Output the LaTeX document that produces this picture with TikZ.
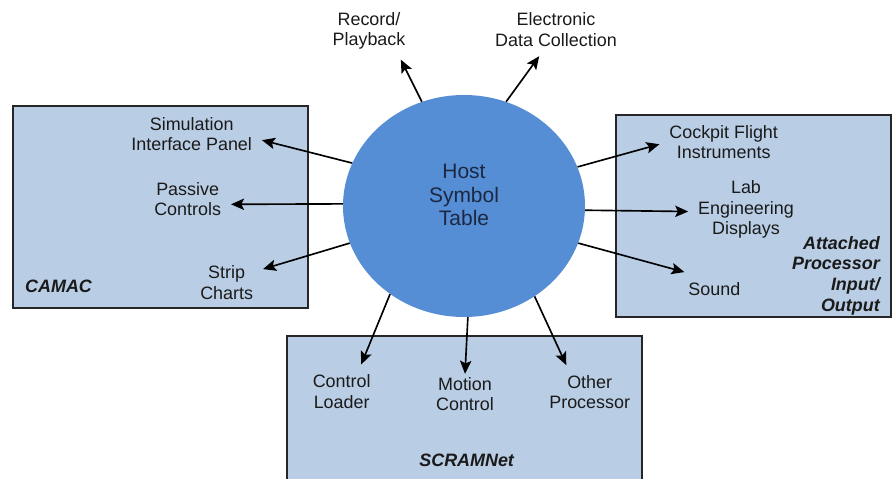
\documentclass[tikz,border=0pt]{standalone}
\usepackage{fontspec}
\setmainfont{Liberation Sans}
\usetikzlibrary{arrows.meta}
\usetikzlibrary{shapes.geometric}
\usetikzlibrary{calc,positioning}

\definecolor{boxblue}{RGB}{185,205,229}
\definecolor{hostblue}{RGB}{85,142,213}
\definecolor{hostink}{RGB}{28,40,66}
\definecolor{ink}{RGB}{26,26,26}

\begin{document}
\begin{tikzpicture}[>={Stealth[length=3.9mm,width=3.4mm,inset=0.8mm]},
    group/.style={fill=boxblue, draw=black!85, line width=0.9pt},
    item/.style={align=center, inner sep=0pt, outer sep=0.3cm, text=ink, font=\fontsize{15.3}{17.6}\selectfont},
    title/.style={inner sep=0pt, text=ink, font=\fontsize{15.3}{17.6}\selectfont\bfseries\itshape},
    link/.style={->, line width=1.4pt}]

    \useasboundingbox (0,0) rectangle (26.79,14.37);

    % the three groups
    \draw[group] (0.39,5.13) rectangle (9.24,11.19);
    \draw[group] (18.48,4.86) rectangle (26.73,10.92);
    \fill[boxblue] (8.61,0) rectangle (19.26,4.29);
    \draw[black!85, line width=0.9pt] (8.61,0) |- (19.26,4.29) -- (19.26,0);

    \node[ellipse, fill=hostblue, minimum width=7.26cm, minimum height=6.66cm, inner sep=0pt] (host) at (13.92,8.19) {};
    \node[text=hostink, align=center, font=\fontsize{17.9}{20}\selectfont] (hosttext) at ([yshift=0.33cm]host.center) {Host\\Symbol\\Table};

    \node[item] (rec) at (11.07,13.44) {Record/\\Playback};
    \node[item] (elec) at (16.68,13.49) {Electronic\\Data Collection};

    \node[item] (sim) at (5.75,10.35) {Simulation\\Interface Panel};
    \node[item] (passive) at (5.63,8.40) {Passive\\Controls};
    \node[item] (strip) at (6.80,5.90) {Strip\\Charts};
    \node[title, anchor=west] (camac) at (0.75,5.77) {CAMAC};

    \node[item] (cockpit) at (21.71,10.11) {Cockpit Flight\\Instruments};
    \node[item] (lab) at (22.38,8.085) {Lab\\Engineering\\Displays};
    \node[item] (sound) at (21.43,5.71) {Sound};
    \node[title, align=right, anchor=east] (attached) at (26.40,6.10) {Attached\\Processor\\Input/\\Output};

    \node[item] (loader) at (10.25,2.63) {Control\\Loader};
    \node[item, outer sep=0.1cm] (motion) at (13.95,2.55) {Motion\\Control};
    \node[item] (other) at (17.69,2.61) {Other\\Processor};
    \node[title] (scram) at (14.00,0.57) {SCRAMNet};

    % links
    \draw[link] (host.112.8) -- (rec.-42);
    \draw[link] (host.68.9) -- (elec.-122.7);
    \draw[link] (host.159.5) -- (sim.-5.2);
    \draw[link] (host.179) -- (passive.-7.2);
    \draw[link] (host.198.1) -- (strip.20.6);
    \draw[link] (host.19.7) -- (cockpit.182.8);
    \draw[link] (host.-2.3) -- (lab.182.5);
    \draw[link] (host.-18.7) -- (sound.151);
    \draw[link] (host.230.5) -- (loader.54);
    \draw[link] (host.-88.5) -- (motion.north);
    \draw[link] (host.-52.5) -- (other.131.7);

\end{tikzpicture}
\end{document}
